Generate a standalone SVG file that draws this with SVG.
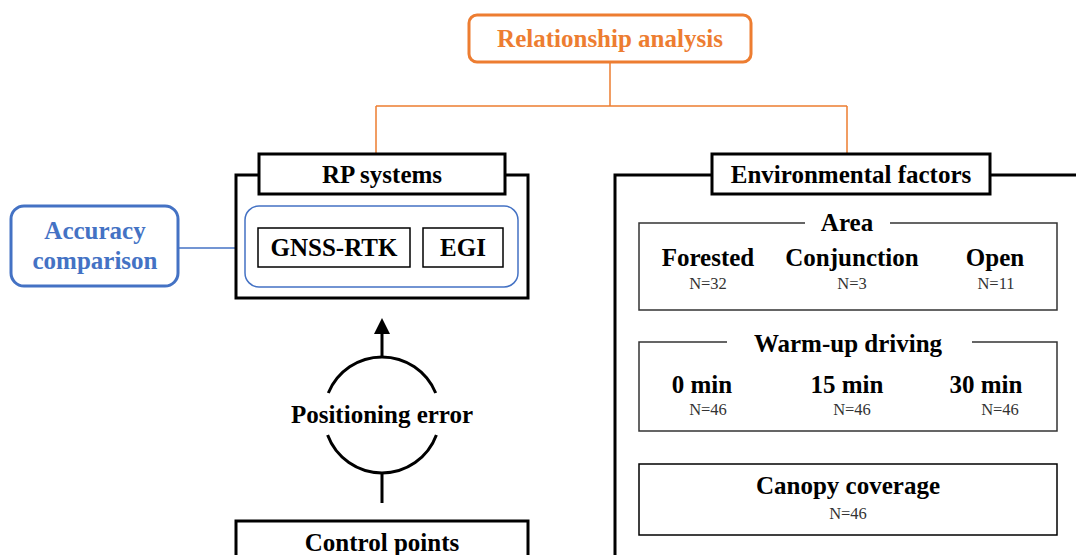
<svg xmlns="http://www.w3.org/2000/svg" width="1076" height="555" viewBox="0 0 1076 555">
<defs>
<style>
.t{font-family:"Liberation Serif","Times New Roman",serif;font-weight:bold;font-size:25px;fill:#000;text-anchor:middle}
.n{font-family:"Liberation Serif","Times New Roman",serif;font-size:16.5px;fill:#333;text-anchor:middle}
.bk{fill:#fff;stroke:#000;stroke-width:3}
.thin{fill:#fff;stroke:#333;stroke-width:1.5}
.or{stroke:#ED7D31;fill:none}
.bl{stroke:#4472C4;fill:none}
</style>
</defs>
<rect width="1076" height="555" fill="#fff"/>

<g id="connectors">
<path class="or" stroke-width="1.5" d="M610,62 V106 M376,106 H847 M376,106 V154 M847,106 V154"/>
<line class="bl" stroke-width="1.5" x1="178" y1="248" x2="245" y2="248"/>
<line x1="382" y1="357" x2="382" y2="333" stroke="#000" stroke-width="3"/>
<path d="M374,334 L382,318 L390,334 Z" fill="#000"/>
<line x1="382" y1="473" x2="382" y2="503" stroke="#000" stroke-width="3"/>
</g>

<g id="relationship-analysis">
<rect x="469" y="15" width="282" height="47" rx="8" fill="#fff" stroke="#ED7D31" stroke-width="3"/>
<text class="t" x="610" y="47" style="fill:#ED7D31">Relationship analysis</text>
</g>

<g id="accuracy-comparison">
<rect x="11" y="206" width="167" height="80" rx="13" fill="#fff" stroke="#4472C4" stroke-width="3"/>
<text class="t" x="95" y="239" style="fill:#4472C4">Accuracy</text>
<text class="t" x="95" y="269" style="fill:#4472C4">comparison</text>
</g>

<g id="rp-systems">
<rect class="bk" x="236" y="175" width="292" height="123"/>
<rect class="bk" x="259" y="154" width="246" height="40"/>
<text class="t" x="382" y="183">RP systems</text>
<rect x="245" y="206" width="273" height="81" rx="14" fill="#fff" stroke="#4472C4" stroke-width="1.5"/>
</g>

<g id="gnss-rtk">
<rect class="thin" x="258" y="228" width="152" height="39" style="stroke:#000"/>
<text class="t" x="334" y="256">GNSS-RTK</text>
</g>

<g id="egi">
<rect class="thin" x="423" y="228" width="80" height="39" style="stroke:#000"/>
<text class="t" x="463" y="256">EGI</text>
</g>

<g id="positioning-error">
<path d="M328.3,393 A58,58 0 0 1 435.7,393" fill="none" stroke="#000" stroke-width="3"/>
<path d="M327.6,435 A58,58 0 0 0 436.4,435" fill="none" stroke="#000" stroke-width="3"/>
<text class="t" x="382" y="423">Positioning error</text>
</g>

<g id="control-points">
<rect class="bk" x="236" y="521" width="292" height="60"/>
<text class="t" x="382" y="551">Control points</text>
</g>

<g id="environmental-factors">
<path d="M615,560 V175 H712 M990,175 H1080" fill="none" stroke="#000" stroke-width="3"/>
<rect class="bk" x="712" y="154" width="278" height="40"/>
<text class="t" x="851" y="183">Environmental factors</text>
</g>

<g id="area">
<path d="M805,223 H639 V310 H1057 V223 H890" fill="none" stroke="#333" stroke-width="1.5"/>
<text class="t" x="847" y="231">Area</text>
<text class="t" x="708" y="266">Forested</text>
<text class="n" x="708" y="289">N=32</text>
<text class="t" x="852" y="266">Conjunction</text>
<text class="n" x="852" y="289">N=3</text>
<text class="t" x="995" y="266">Open</text>
<text class="n" x="996" y="289">N=11</text>
</g>

<g id="warm-up-driving">
<path d="M727,342 H639 V431 H1057 V342 H972" fill="none" stroke="#333" stroke-width="1.5"/>
<text class="t" x="848" y="352">Warm-up driving</text>
<text class="t" x="702" y="393">0 min</text>
<text class="n" x="708" y="415">N=46</text>
<text class="t" x="847" y="393">15 min</text>
<text class="n" x="852" y="415">N=46</text>
<text class="t" x="986" y="393">30 min</text>
<text class="n" x="1000" y="415">N=46</text>
</g>

<g id="canopy-coverage">
<rect class="thin" x="639" y="464" width="418" height="71" style="stroke:#000"/>
<text class="t" x="848" y="494">Canopy coverage</text>
<text class="n" x="848" y="519">N=46</text>
</g>
</svg>
